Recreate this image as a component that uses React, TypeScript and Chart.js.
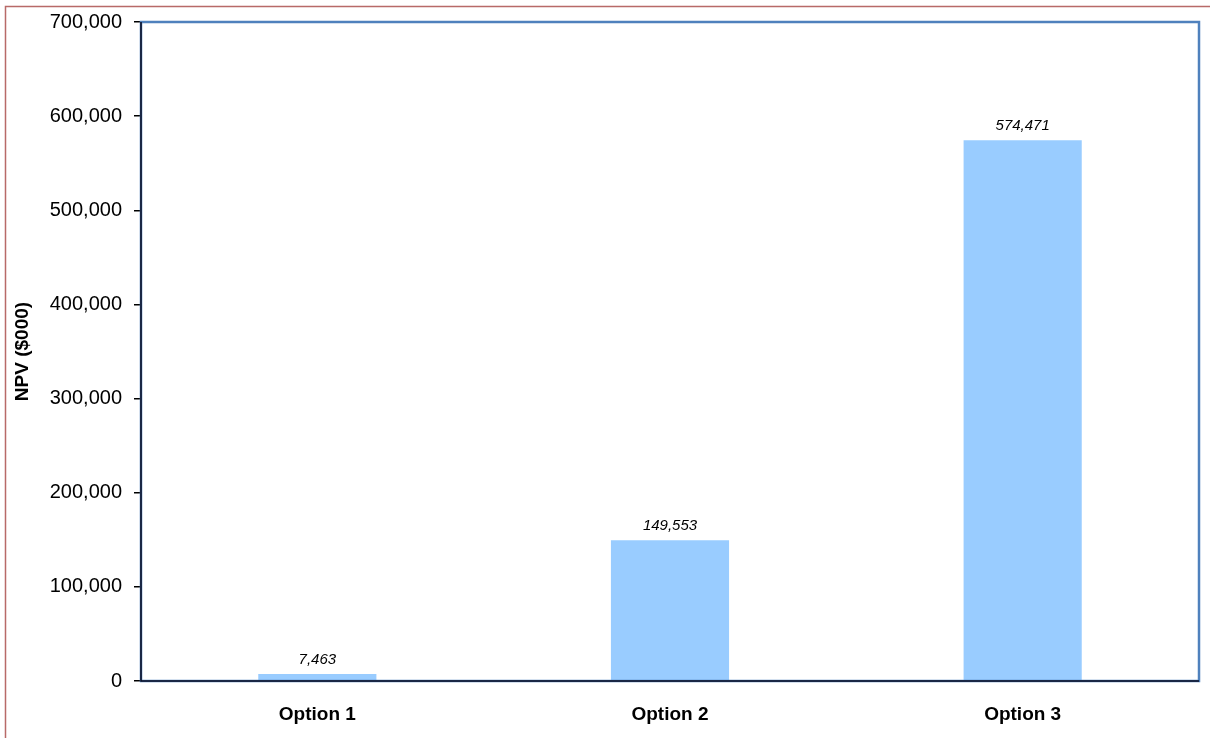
import React, { useEffect, useRef } from "react";
import { Chart, registerables } from "chart.js";

Chart.register(...registerables);

const categories = ["Option 1", "Option 2", "Option 3"];
const npvValues = [7463, 149553, 574471];
const yTickValues = [0, 100000, 200000, 300000, 400000, 500000, 600000, 700000];

const FONT = "'Liberation Sans', Arial, sans-serif";

const fmt = (v: number) => v.toLocaleString("en-US");

const decorPlugin = {
  id: "decor",
  beforeDraw(chart: any) {
    const ctx = chart.ctx;
    ctx.save();
    ctx.strokeStyle = "#B86A68";
    ctx.lineWidth = 1.5;
    ctx.beginPath();
    ctx.moveTo(5.5, 738);
    ctx.lineTo(5.5, 6.5);
    ctx.lineTo(1210, 6.5);
    ctx.stroke();
    ctx.restore();
  },
  afterDatasetsDraw(chart: any) {
    const ctx = chart.ctx;
    const a = chart.chartArea;
    ctx.save();
    ctx.strokeStyle = "#4F81BD";
    ctx.lineWidth = 2.5;
    ctx.strokeRect(a.left, a.top, a.right - a.left, a.bottom - a.top);
    ctx.strokeStyle = "#0A0A1E";
    ctx.lineWidth = 1.5;
    ctx.beginPath();
    ctx.moveTo(a.left, a.top);
    ctx.lineTo(a.left, a.bottom);
    ctx.lineTo(a.right, a.bottom);
    ctx.stroke();
    // data labels
    const meta = chart.getDatasetMeta(0);
    ctx.fillStyle = "#000";
    ctx.font = `italic 15px ${FONT}`;
    ctx.textAlign = "center";
    ctx.textBaseline = "bottom";
    meta.data.forEach((bar: any, i: number) => {
      ctx.fillText(fmt(npvValues[i]), bar.x, bar.y - 7);
    });
    ctx.restore();
  },
};

export default function App() {
  const ref = useRef<HTMLCanvasElement>(null);
  useEffect(() => {
    if (!ref.current) return;
    const chart = new Chart(ref.current, {
      type: "bar",
      data: {
        labels: categories,
        datasets: [
          {
            data: npvValues,
            backgroundColor: "#99CCFF",
            borderWidth: 0,
            barPercentage: 0.67,
            categoryPercentage: 0.5,
          },
        ],
      },
      options: {
        responsive: false,
        animation: false,
        layout: { padding: { left: 0, top: 22, right: 11, bottom: 0 } },
        plugins: {
          legend: { display: false },
          tooltip: { enabled: false },
        },
        scales: {
          x: {
            grid: { display: false, drawTicks: false },
            border: { display: false },
            ticks: {
              color: "#000",
              font: { family: FONT, size: 19, weight: "bold" },
              padding: 22,
            },
            afterFit(scale: any) {
              scale.height = 57;
              scale.paddingLeft = 0;
              scale.paddingRight = 0;
            },
          },
          y: {
            min: 0,
            max: 700000,
            afterBuildTicks(scale: any) {
              scale.ticks = yTickValues.map((v) => ({ value: v }));
            },
            grid: {
              drawOnChartArea: false,
              drawTicks: true,
              tickLength: 7,
              color: "#000",
              lineWidth: 1.5,
            },
            border: { display: false },
            ticks: {
              color: "#000",
              font: { family: FONT, size: 20 },
              padding: 12,
              callback: (v: any) => fmt(Number(v)),
            },
            title: {
              display: true,
              text: "NPV ($000)",
              color: "#000",
              font: { family: FONT, size: 19, weight: "bold" },
              padding: { top: 11, bottom: 0 },
            },
            afterFit(scale: any) {
              scale.width = 141;
              scale.paddingTop = 0;
              scale.paddingBottom = 0;
            },
          },
        },
      },
      plugins: [decorPlugin],
    } as any);
    return () => chart.destroy();
  }, []);
  return (
    <div style={{ position: "fixed", left: 0, top: 0, width: 1210, height: 738, background: "#fff" }}>
      <canvas ref={ref} width={1210} height={738} style={{ display: "block" }} />
    </div>
  );
}
